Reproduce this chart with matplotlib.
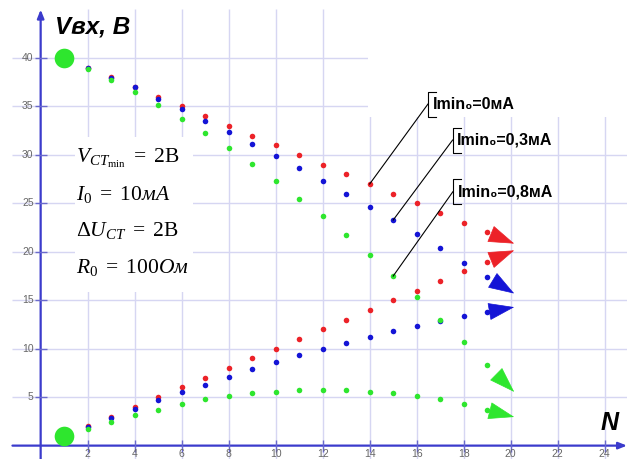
import numpy as np
import matplotlib
matplotlib.use('Agg')
import matplotlib.pyplot as plt
from matplotlib.patches import Rectangle

plt.rcParams['mathtext.fontset'] = 'custom'
plt.rcParams['mathtext.rm'] = 'Liberation Serif'
plt.rcParams['mathtext.it'] = 'Liberation Serif:italic'
plt.rcParams['mathtext.bf'] = 'Liberation Serif:bold'

# data
n = np.arange(2, 20)
red_up = [39, 38, 37, 36, 35, 34, 33, 32, 31, 30, 29, 28, 27, 26, 25, 24, 23, 22]
red_lo = [2, 3, 4, 5, 6, 7, 8, 9, 10, 11, 12, 13, 14, 15, 16, 17, 18, 19]
blue_up = [39.0, 37.93, 37.0, 35.8, 34.7, 33.5, 32.33, 31.16, 29.89, 28.62,
           27.34, 26.0, 24.65, 23.28, 21.8, 20.4, 18.88, 17.4]
blue_lo = [1.95, 2.81, 3.78, 4.7, 5.53, 6.29, 7.11, 7.87, 8.59, 9.32,
           9.94, 10.59, 11.2, 11.8, 12.31, 12.9, 13.37, 13.8]
green_up = [38.9, 37.7, 36.5, 35.2, 33.7, 32.3, 30.7, 29.1, 27.3, 25.5,
            23.7, 21.7, 19.67, 17.5, 15.3, 13.0, 10.7, 8.3]
green_lo = [1.71, 2.47, 3.16, 3.67, 4.29, 4.78, 5.12, 5.39, 5.53, 5.7,
            5.7, 5.7, 5.57, 5.39, 5.08, 4.78, 4.29, 3.67]
n_start = 1
v_start = [40, 1]

x_ticks = list(range(2, 25, 2))
y_ticks = list(range(5, 41, 5))

labels = ['Imin₀=0мА', 'Imin₀=0,3мА', 'Imin₀=0,8мА']
formulas = [r'$V_{CT_{\mathrm{min}}}\ =\ 2\mathrm{В}$',
            r'$I_0\ =\ 10\mathit{мА}$',
            r'$\Delta U_{CT}\ =\ 2\mathrm{В}$',
            r'$R_0\ =\ 100\mathit{Ом}$']

RED = '#ec2228'
BLUE = '#1414d6'
GREEN = '#2ee62e'
AXC = '#3b3bcc'
GRID = '#d6d6f2'

xmin, xmax = -1.73, 24.95
ymin, ymax = -1.38, 45.99

fig = plt.figure(figsize=(6.27, 4.59), dpi=100)
ax = fig.add_axes([0, 0, 1, 1])
ax.set_xlim(xmin, xmax)
ax.set_ylim(ymin, ymax)
ax.axis('off')

# grid
ax.hlines(y_ticks, -1.2, xmax, color=GRID, lw=1, zorder=0)
ax.vlines(x_ticks, ymin, 45.1, color=GRID, lw=1, zorder=0)

# white patches over grid
ax.add_patch(Rectangle((13.93, 33.9), xmax - 13.93, ymax - 33.9, fc='white', ec='none', zorder=0.5))
ax.add_patch(Rectangle((1.46, 15.85), 5.02, 16.0, fc='white', ec='none', zorder=0.5))

# axes with arrows
ax.annotate('', xy=(xmax, 0), xytext=(-1.2, 0),
            arrowprops=dict(arrowstyle='-|>,head_length=0.5,head_width=0.2', color=AXC, lw=1.6,
                            shrinkA=0, shrinkB=0), zorder=2)
ax.annotate('', xy=(0, 45.0), xytext=(0, ymin),
            arrowprops=dict(arrowstyle='-|>,head_length=0.5,head_width=0.2', color=AXC, lw=1.6,
                            shrinkA=0, shrinkB=0), zorder=2)
ax.plot(x_ticks, [0] * len(x_ticks), ls='none', marker='|', ms=9, mew=1, color='#6a6acc', zorder=2)
ax.plot([0] * len(y_ticks), y_ticks, ls='none', marker='_', ms=9, mew=1, color='#6a6acc', zorder=2)

for t in x_ticks:
    ax.text(t, -0.35, str(t), ha='center', va='top', fontsize=7.5, color='#666666',
            family='Liberation Sans')
for t in y_ticks:
    ax.text(-0.3, t, str(t), ha='right', va='center', fontsize=7.5, color='#666666',
            family='Liberation Sans')

# points
for up, lo, c in [(red_up, red_lo, RED), (blue_up, blue_lo, BLUE), (green_up, green_lo, GREEN)]:
    ax.scatter(n, up, s=16, color=c, zorder=3, lw=0)
    ax.scatter(n, lo, s=16, color=c, zorder=3, lw=0)
ax.scatter([n_start, n_start], v_start, s=200, color=GREEN, zorder=3, lw=0)

# arrowheads at ends of curves, fixed length in pixels
head_px = 24
inv = ax.transData.inverted()
for ser, c in [(red_up, RED), (red_lo, RED), (blue_up, BLUE), (blue_lo, BLUE),
               (green_up, GREEN), (green_lo, GREEN)]:
    d = ser[-1] - ser[-2]
    p1 = (n[-1] + 1.15, ser[-1] + 1.15 * d)
    a = ax.transData.transform((n[-1], ser[-1]))
    b = ax.transData.transform(p1)
    u = (b - a) / np.hypot(*(b - a))
    p0 = inv.transform(b - u * head_px)
    L = head_px * 72 / fig.dpi
    ax.annotate('', xy=p1, xytext=p0,
                arrowprops=dict(arrowstyle=f'-|>,head_length={L:.2f},head_width=5.8',
                                mutation_scale=1, color=c, lw=0.5,
                                shrinkA=0, shrinkB=0), zorder=3)

# callouts
starts = [(14, red_up[list(n).index(14)]),
          (15, blue_up[list(n).index(15)]),
          (15, green_up[list(n).index(15)])]
brackets = [(16.48, 35.25), (17.53, 31.54), (17.54, 26.2)]
for (sx, sy), (bx, by), lab in zip(starts, brackets, labels):
    ax.plot([sx, bx], [sy, by], color='black', lw=0.8, zorder=4)
    ax.plot([bx + 0.34, bx, bx, bx + 0.34], [by + 1.29, by + 1.29, by - 1.29, by - 1.29],
            color='black', lw=0.8, zorder=4)
    ax.text(bx + 0.2, by, lab, ha='left', va='center', fontsize=11.5, fontweight='bold',
            family=['Liberation Sans', 'DejaVu Sans'], zorder=4)

# formulas
for i, f in enumerate(formulas):
    ax.text(1.5, 29.2 - i * 3.8, f, ha='left', va='baseline', fontsize=15.5, zorder=4)

ax.text(0.61, 42.58, 'Vвх, В', ha='left', va='baseline', fontsize=17.5, fontweight='bold',
        style='italic', family='Liberation Sans')
ax.text(24.57, 1.61, 'N', ha='right', va='baseline', fontsize=18, fontweight='bold',
        style='italic', family='Liberation Sans')

fig.savefig('out.png', dpi=100)
